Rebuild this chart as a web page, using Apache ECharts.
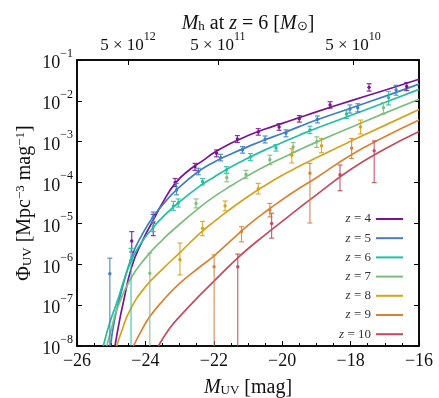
<!DOCTYPE html>
<html><head><meta charset="utf-8">
<script src="https://cdn.jsdelivr.net/npm/echarts@6/dist/echarts.min.js"></script>
<style>html,body{margin:0;padding:0;background:#fff}#c{width:439px;height:398px}</style>
</head><body><div id="c"></div>
<script>
// ---- data (M_UV, log10 Phi) ----
const seriesNames = ['z = 4','z = 5','z = 6','z = 7','z = 8','z = 9','z = 10'];
const seriesColors = ['#7a1490','#3d7fc1','#22bfa0','#7dbd7e','#d6a21e','#d98332','#c64a5c'];

const curveZ4 = [[-24.89,-8],[-24.75,-7.35],[-24.65,-6.95],[-24.4,-6.06],[-24.1,-5.45],[-23.77,-4.92],[-23.5,-4.5],[-23.13,-4.02],[-22.7,-3.68],[-22.3,-3.45],[-22,-3.27],[-21.5,-3.04],[-21,-2.85],[-20.5,-2.69],[-20,-2.55],[-19.5,-2.41],[-19,-2.27],[-18,-2.0],[-17,-1.74],[-16,-1.47]];
const curveZ5 = [[-25.02,-8],[-24.9,-7.35],[-24.74,-6.79],[-24.4,-5.81],[-24.1,-5.28],[-23.77,-4.83],[-23.4,-4.45],[-23.09,-4.18],[-22.5,-3.76],[-22,-3.5],[-21.5,-3.3],[-21,-3.12],[-20.5,-2.95],[-20,-2.8],[-19.5,-2.63],[-19,-2.47],[-18,-2.18],[-17,-1.89],[-16,-1.59]];
const curveZ6 = [[-25.23,-8],[-25.05,-7.45],[-24.84,-6.95],[-24.45,-5.98],[-24.1,-5.45],[-23.77,-5.1],[-23.5,-4.85],[-23,-4.47],[-22.4,-4.08],[-22,-3.87],[-21.5,-3.62],[-21,-3.4],[-20.5,-3.2],[-20,-3.02],[-19.5,-2.84],[-19,-2.67],[-18,-2.36],[-17,-2.04],[-16,-1.72]];
const curveZ7 = [[-25.13,-8],[-25.0,-7.6],[-24.84,-7.12],[-24.45,-6.38],[-24,-5.85],[-23.5,-5.4],[-23,-5.02],[-22.4,-4.6],[-22,-4.35],[-21.5,-4.08],[-21,-3.83],[-20.5,-3.6],[-20,-3.4],[-19.5,-3.2],[-19,-3.01],[-18,-2.65],[-17,-2.3],[-16,-1.96]];
const curveZ8 = [[-24.84,-8],[-24.7,-7.65],[-24.45,-7.12],[-24,-6.55],[-23.5,-6.12],[-23,-5.72],[-22.4,-5.24],[-22,-4.96],[-21.5,-4.64],[-21,-4.34],[-20.5,-4.07],[-20,-3.82],[-19.5,-3.6],[-19,-3.39],[-18,-2.99],[-17,-2.6],[-16,-2.21]];
const curveZ9 = [[-24.35,-8],[-24.1,-7.6],[-23.87,-7.28],[-23.5,-6.9],[-23,-6.47],[-22.4,-6.06],[-22,-5.8],[-21.5,-5.42],[-21,-5.05],[-20.5,-4.72],[-20,-4.42],[-19.5,-4.14],[-19,-3.88],[-18,-3.33],[-17,-2.88],[-16,-2.47]];
const curveZ10 = [[-23.62,-8],[-23.3,-7.58],[-23,-7.28],[-22.4,-6.75],[-22,-6.42],[-21.5,-6.0],[-21,-5.62],[-20.5,-5.28],[-20,-4.95],[-19.5,-4.62],[-19,-4.3],[-18,-3.68],[-17,-3.18],[-16,-2.75]];

// points: [M, log10 Phi, log10 lower, log10 upper]
const pointsZ4 = [[-24.40,-5.43,-5.7,-5.2],[-23.77,-4.97,-5.3,-4.78],[-23.13,-4.0,-4.1,-3.9],[-22.55,-3.61,-3.7,-3.53],[-21.92,-3.28,-3.37,-3.2],[-21.31,-2.93,-3.02,-2.85],[-20.70,-2.76,-2.84,-2.68],[-20.09,-2.64,-2.72,-2.56],[-19.50,-2.44,-2.52,-2.36],[-18.60,-2.10,-2.18,-2.02],[-17.46,-1.67,-1.76,-1.58],[-16.36,-1.65,-1.75,-1.55]];
const pointsZ5 = [[-25.04,-6.23,-8,-5.85],[-23.77,-4.85,-5.0,-4.72],[-23.09,-4.18,-4.3,-4.02],[-22.45,-3.73,-3.81,-3.65],[-21.80,-3.39,-3.47,-3.31],[-21.16,-3.20,-3.28,-3.12],[-20.50,-2.94,-3.03,-2.86],[-19.89,-2.79,-2.88,-2.71],[-18.97,-2.45,-2.54,-2.37],[-18.02,-2.20,-2.3,-2.1],[-17.79,-2.17,-2.27,-2.07],[-16.67,-1.73,-1.86,-1.62]];
const pointsZ6 = [[-24.42,-5.90,-8,-5.61],[-23.77,-5.08,-5.2,-4.95],[-23.18,-4.57,-4.68,-4.46],[-23.04,-4.50,-4.6,-4.4],[-22.33,-3.98,-4.06,-3.9],[-21.63,-3.69,-3.77,-3.61],[-20.93,-3.37,-3.46,-3.29],[-20.18,-3.15,-3.23,-3.07],[-19.19,-2.71,-2.8,-2.62],[-18.12,-2.32,-2.43,-2.22],[-16.89,-1.92,-2.1,-1.77]];
const pointsZ7 = [[-23.87,-6.22,-8,-5.73],[-22.52,-4.51,-4.62,-4.4],[-21.62,-3.88,-3.98,-3.78],[-21.06,-3.80,-3.9,-3.7],[-20.36,-3.44,-3.56,-3.33],[-19.68,-3.13,-3.26,-3.02],[-18.99,-3.0,-3.14,-2.88],[-17.04,-2.17,-2.32,-2.04]];
const pointsZ8 = [[-22.99,-5.89,-6.26,-5.48],[-22.33,-5.12,-5.3,-4.95],[-21.67,-4.57,-4.69,-4.45],[-20.70,-4.15,-4.28,-4.02],[-19.72,-3.33,-3.52,-3.17],[-18.85,-3.10,-3.27,-2.92],[-17.71,-2.64,-2.81,-2.47]];
const pointsZ9 = [[-21.99,-6.06,-8,-5.77],[-21.19,-5.20,-5.45,-5.08],[-20.36,-4.67,-4.84,-4.51],[-19.19,-3.77,-4.99,-3.53],[-17.97,-3.16,-3.41,-2.92]];
const pointsZ10 = [[-21.30,-6.06,-8,-5.75],[-20.31,-5.0,-5.36,-4.75],[-18.31,-3.81,-4.2,-3.57],[-17.31,-3.22,-4.0,-2.98]];

// top axis: halo mass ticks
const topTickM = [-24.51, -21.88, -17.93];
const topTickExp = [12, 11, 10];

const curves = [curveZ4,curveZ5,curveZ6,curveZ7,curveZ8,curveZ9,curveZ10];
const points = [pointsZ4,pointsZ5,pointsZ6,pointsZ7,pointsZ8,pointsZ9,pointsZ10];

const FONT = 'Liberation Serif';
const p10 = v => Math.pow(10, v);

function errRender(color){
  return function(params, api){
    const x = api.value(0);
    const c = api.coord([x, api.value(1)]);
    const lo = api.coord([x, api.value(2)]);
    const hi = api.coord([x, api.value(3)]);
    const cap = 2.5;
    const st = {stroke: color, lineWidth: 1.2, opacity: 0.85};
    const ch = [
      {type:'line', shape:{x1:c[0], y1:lo[1], x2:c[0], y2:hi[1]}, style: st},
      {type:'line', shape:{x1:c[0]-cap, y1:hi[1], x2:c[0]+cap, y2:hi[1]}, style: st},
      {type:'circle', shape:{cx:c[0], cy:c[1], r:1.7}, style:{fill: color}}
    ];
    if (api.value(2) > 1.01e-8) ch.push({type:'line', shape:{x1:c[0]-cap, y1:lo[1], x2:c[0]+cap, y2:lo[1]}, style: st});
    return {type:'group', children: ch};
  };
}

const series = [];
curves.forEach((cv, i) => {
  series.push({
    name: seriesNames[i], type: 'line', xAxisIndex: 0, yAxisIndex: 0,
    data: cv.map(d => [d[0], p10(d[1])]),
    symbol: 'none', smooth: 0.5,
    lineStyle: {color: seriesColors[i], width: 1.7},
    itemStyle: {color: seriesColors[i]}, z: 2
  });
});
points.forEach((pt, i) => {
  series.push({
    name: 'err' + i, type: 'custom', xAxisIndex: 0, yAxisIndex: 0, clip: true,
    data: pt.map(d => [d[0], p10(d[1]), p10(d[2]), p10(d[3])]),
    encode: {x: 0, y: 1},
    renderItem: errRender(seriesColors[i]), z: 3
  });
});

const supRich = {
  b: {fontFamily: FONT, fontSize: 18, color: '#111', padding: [7,0,0,0], verticalAlign: 'bottom'},
  s: {fontFamily: FONT, fontSize: 12, color: '#111', verticalAlign: 'top'}
};

const chart = echarts.init(document.getElementById('c'));
chart.setOption({
  animation: false,
  backgroundColor: '#fff',
  grid: {left: 77, right: 20, top: 60, bottom: 52, outerBoundsMode: 'none', containLabel: false,
         show: true, borderColor: '#000', borderWidth: 1.5, backgroundColor: 'transparent'},
  legend: {
    data: seriesNames, orient: 'vertical', align: 'right', right: 31, top: 206,
    icon: 'rect', itemWidth: 27, itemHeight: 2, itemGap: 3.2,
    formatter: n => '{i|z}' + n.slice(1),
    textStyle: {fontFamily: FONT, fontSize: 13, color: '#333', lineHeight: 16,
      rich: {i: {fontStyle: 'italic', fontFamily: FONT, fontSize: 13, color: '#333'}}}
  },
  xAxis: [
    {type: 'value', position: 'bottom', min: -26, max: -16, interval: 2,
     axisLine: {show: true, onZero: false, lineStyle: {color: '#000', width: 1.5}},
     axisTick: {show: true, inside: true, length: 5, lineStyle: {color: '#000'}},
     minorTick: {show: true, splitNumber: 4, length: 3, lineStyle: {color: '#000'}},
     splitLine: {show: false},
     axisLabel: {margin: 6, fontFamily: FONT, fontSize: 18, color: '#111',
       formatter: v => (v < 0 ? '\u2212' : '') + Math.abs(v)},
     name: '{i|M}{s|UV} [mag]', nameLocation: 'middle', nameGap: 42, nameMoveOverlap: false,
     nameTextStyle: {fontFamily: FONT, fontSize: 20, color: '#111', verticalAlign: 'middle',
       rich: {i: {fontStyle: 'italic', fontFamily: FONT, fontSize: 20, color: '#111'},
              s: {fontFamily: FONT, fontSize: 13, color: '#111', padding: [6,0,0,0]}}}
    },
    {type: 'value', position: 'top', min: -26, max: -16,
     axisLine: {show: true, onZero: false, lineStyle: {color: '#000', width: 1.5}},
     axisTick: {show: true, inside: true, length: 5, customValues: topTickM, lineStyle: {color: '#000'}},
     splitLine: {show: false},
     axisLabel: {margin: 6, customValues: topTickM,
       formatter: v => {
         let k = 0, best = 1e9;
         topTickM.forEach((m, j) => { const d = Math.abs(m - v); if (d < best) { best = d; k = j; } });
         return '{b|5 \u00d7 10}{s|' + topTickExp[k] + '}';
       },
       rich: {
         b: {fontFamily: FONT, fontSize: 17, color: '#111', padding: [6,0,0,0], verticalAlign: 'bottom'},
         s: {fontFamily: FONT, fontSize: 12, color: '#111', verticalAlign: 'top'}
       }},
     name: '{i|M}{s|h} at {i|z} = 6 [{i|M}{s|\u2299}]', nameLocation: 'middle', nameGap: 36, nameMoveOverlap: false,
     nameTextStyle: {fontFamily: FONT, fontSize: 20, color: '#111', verticalAlign: 'middle',
       rich: {i: {fontStyle: 'italic', fontFamily: FONT, fontSize: 20, color: '#111'},
              s: {fontFamily: FONT, fontSize: 13, color: '#111', padding: [6,0,0,0]}}}
    }
  ],
  yAxis: [
    {type: 'log', logBase: 10, min: 1e-8, max: 1e-1, splitNumber: 7, position: 'left',
     axisLine: {show: true, onZero: false, lineStyle: {color: '#000', width: 1.5}},
     axisTick: {show: true, inside: true, length: 5, lineStyle: {color: '#000'}},
     minorTick: {show: false}, splitLine: {show: false},
     axisLabel: {margin: 4,
       formatter: v => {
         const e = Math.round(Math.log10(v));
         return '{b|10}{s|' + (e < 0 ? '\u2212' : '') + Math.abs(e) + '}';
       },
       rich: supRich},
     name: '\u03a6{s|UV} [Mpc{u|\u22123} mag{u|\u22121}]', nameLocation: 'middle', nameGap: 52, nameRotate: 90, nameMoveOverlap: false,
     nameTextStyle: {fontFamily: FONT, fontSize: 20, color: '#111', verticalAlign: 'middle',
       rich: {s: {fontFamily: FONT, fontSize: 13, color: '#111', padding: [6,0,0,0]},
              u: {fontFamily: FONT, fontSize: 13, color: '#111', padding: [0,0,8,0]}}}
    },
    {type: 'log', logBase: 10, min: 1e-8, max: 1e-1, splitNumber: 7, position: 'right',
     axisLine: {show: true, onZero: false, lineStyle: {color: '#000', width: 1.5}},
     axisTick: {show: true, inside: true, length: 5, lineStyle: {color: '#000'}},
     axisLabel: {show: false}, splitLine: {show: false}, minorTick: {show: false}
    }
  ],
  series: series
});
</script>
</body></html>
